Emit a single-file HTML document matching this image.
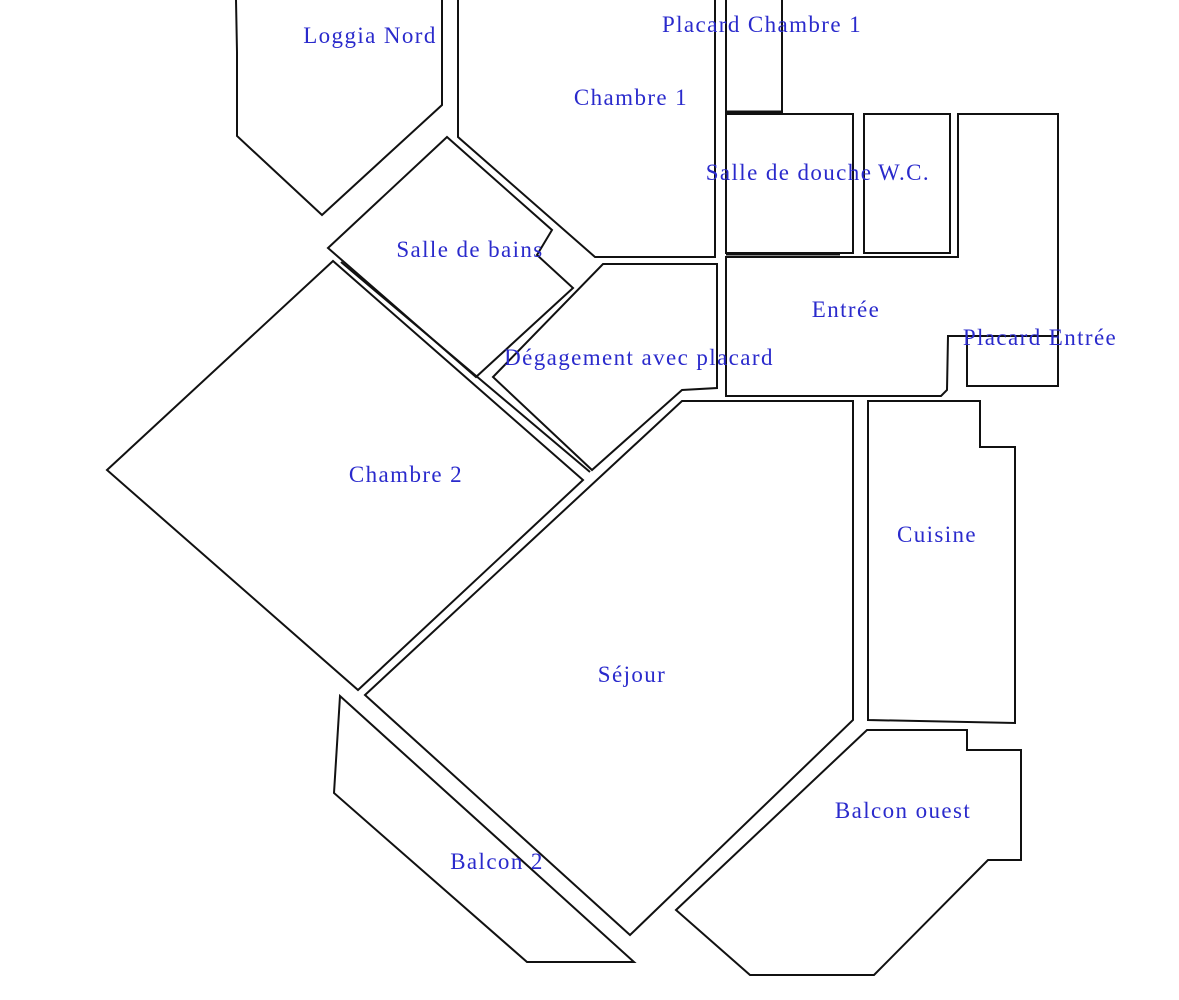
<!DOCTYPE html>
<html><head><meta charset="utf-8"><style>
html,body{margin:0;padding:0;background:#fff;}
svg{display:block}
text{font-family:"Liberation Serif",serif;font-size:23px;letter-spacing:1.4px;fill:#2a2acc;text-anchor:middle}
polygon,polyline,rect{fill:none;stroke:#111;stroke-width:2}
</style></head><body>
<svg width="1179" height="1000" viewBox="0 0 1179 1000" xmlns="http://www.w3.org/2000/svg">
<polyline points="236,0 237,52 237,136 322,215 442,105 442,0"/>
<polyline points="458,0 458,137 595,257 715,257 715,0"/>
<polyline points="726,0 726,112 782,112 782,0"/>
<line x1="726" y1="112" x2="782" y2="112" style="stroke:#111;stroke-width:3"/>
<polygon points="447,137 552,230 537,255 573,288 476,377 328,248"/>
<polygon points="603,264 717,264 717,388 682,390 592,470 493,377"/>
<rect x="726" y="114" width="127" height="139"/>
<line x1="726" y1="254" x2="840" y2="254" style="stroke:#111;stroke-width:3"/>
<rect x="864" y="114" width="86" height="139"/>
<polygon points="726,257 958,257 958,114 1058,114 1058,336 948,336 947,390 941,396 726,396"/>
<rect x="967" y="336" width="91" height="50"/>
<polygon points="333,261 107,470 358,690 583,480"/>
<line x1="341" y1="262" x2="590" y2="472" style="stroke:#111;stroke-width:2"/>
<polygon points="682,401 853,401 853,720 630,935 365,695"/>
<polygon points="868,401 980,401 980,447 1015,447 1015,723 868,720"/>
<polygon points="867,730 967,730 967,750 1021,750 1021,860 988,860 874,975 750,975 676,910"/>
<polygon points="340,696 334,793 527,962 634,962"/>
<text x="370" y="43">Loggia Nord</text>
<text x="762" y="32">Placard Chambre 1</text>
<text x="631" y="105">Chambre 1</text>
<text x="789" y="180">Salle de douche</text>
<text x="904" y="180">W.C.</text>
<text x="470" y="257">Salle de bains</text>
<text x="846" y="317">Entrée</text>
<text x="1040" y="345">Placard Entrée</text>
<text x="639" y="365">Dégagement avec placard</text>
<text x="406" y="482">Chambre  2</text>
<text x="937" y="542">Cuisine</text>
<text x="632" y="682">Séjour</text>
<text x="903" y="818">Balcon ouest</text>
<text x="497" y="869">Balcon 2</text>
</svg>
</body></html>
